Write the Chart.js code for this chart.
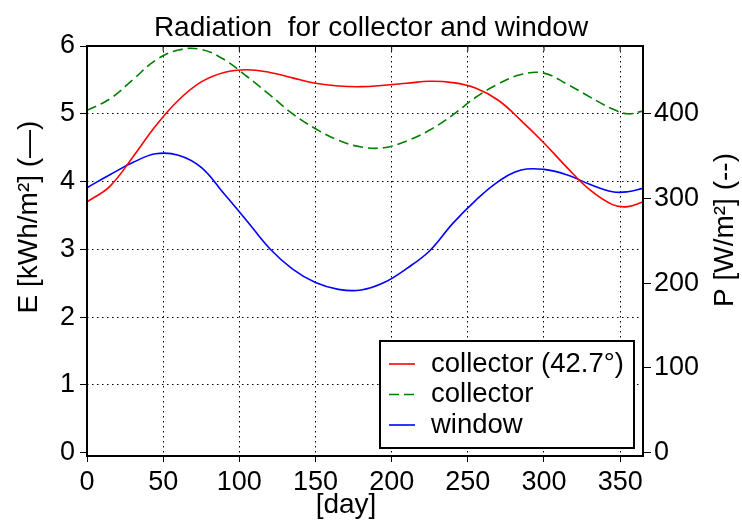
<!DOCTYPE html>
<html lang="en">
<head>
<meta charset="UTF-8">
<title>Radiation for collector and window</title>
<script src="https://cdn.jsdelivr.net/npm/chart.js"></script>
<style>
  html, body { margin: 0; padding: 0; background: #fff; }
  .chart-box { width: 742px; height: 523px; position: relative; }
</style>
</head>
<body>
<div class="chart-box"><canvas id="radChart"></canvas></div>
<script>
// day of year
const days = [0, 15, 30, 45, 60, 75, 90, 105, 120, 135, 150, 165, 180, 195, 210, 225, 240, 255, 270, 285, 300, 315, 330, 345, 355, 365];
// E [kWh/m²] per day
const collectorTilted = [3.70, 3.93, 4.36, 4.82, 5.20, 5.47, 5.61, 5.65, 5.61, 5.53, 5.45, 5.41, 5.40, 5.42, 5.45, 5.48, 5.46, 5.38, 5.20, 4.90, 4.57, 4.21, 3.88, 3.66, 3.63, 3.70];
const collector = [5.05, 5.22, 5.50, 5.79, 5.94, 5.95, 5.80, 5.55, 5.28, 5.00, 4.78, 4.61, 4.51, 4.50, 4.60, 4.76, 4.98, 5.24, 5.44, 5.58, 5.60, 5.44, 5.25, 5.07, 5.00, 5.04];
const windowRad = [3.91, 4.10, 4.28, 4.41, 4.39, 4.21, 3.82, 3.42, 3.01, 2.71, 2.51, 2.41, 2.40, 2.51, 2.72, 2.98, 3.38, 3.72, 4.00, 4.17, 4.18, 4.10, 3.96, 3.85, 3.85, 3.90];
const seriesNames = ['collector (42.7°)', 'collector', 'window'];
const seriesColors = ['#ff0000', '#008000', '#0000ff'];

const FONT = 'Liberation Sans, Arial, sans-serif';
const pts = arr => days.map((d, i) => ({ x: d, y: arr[i] }));

// title, axis titles, frame and legend drawn on top
const decorations = {
    id: 'decorations',
    afterDraw(chart) {
        const ctx = chart.ctx;
        const a = chart.chartArea;
        ctx.save();
        // frame
        ctx.strokeStyle = '#000';
        ctx.lineWidth = 2;
        ctx.setLineDash([]);
        ctx.strokeRect(a.left, a.top, a.right - a.left, a.bottom - a.top);
        // small ticks on top edge
        ctx.lineWidth = 1;
        chart.scales.x.ticks.forEach(t => {
            const px = chart.scales.x.getPixelForValue(t.value);
            ctx.beginPath();
            ctx.moveTo(px, a.top);
            ctx.lineTo(px, a.top + 5);
            ctx.stroke();
        });
        ctx.fillStyle = '#000';
        // title
        ctx.font = '28px ' + FONT;
        ctx.textAlign = 'center';
        ctx.textBaseline = 'middle';
        ctx.fillText('Radiation  for collector and window', 371, 28);
        // x label
        ctx.fillText('[day]', 346, 505);
        // left label
        ctx.save();
        ctx.translate(29, 217);
        ctx.rotate(-Math.PI / 2);
        ctx.fillText('E [kWh/m²] (—)', 0, 0);
        ctx.restore();
        // right label
        ctx.save();
        ctx.translate(725, 230);
        ctx.rotate(-Math.PI / 2);
        ctx.fillText('P [W/m²] (--)', 0, 0);
        ctx.restore();
        // legend
        ctx.fillStyle = '#fff';
        ctx.fillRect(380, 341, 254, 107);
        ctx.strokeStyle = '#000';
        ctx.lineWidth = 2;
        ctx.strokeRect(380, 341, 254, 107);
        ctx.font = '27.5px ' + FONT;
        ctx.textAlign = 'left';
        chart.data.datasets.forEach((ds, i) => {
            const yy = 364 + i * 30.5;
            ctx.strokeStyle = ds.borderColor;
            ctx.lineWidth = 1.6;
            ctx.setLineDash(ds.borderDash || []);
            ctx.beginPath();
            ctx.moveTo(389, yy);
            ctx.lineTo(415, yy);
            ctx.stroke();
            ctx.setLineDash([]);
            ctx.fillStyle = '#000';
            ctx.fillText(ds.label, 431, yy);
        });
        ctx.restore();
    }
};

const ctx = document.getElementById('radChart').getContext('2d');
const radChart = new Chart(ctx, {
    type: 'line',
    data: {
        datasets: [
            {
                label: seriesNames[0],
                data: pts(collectorTilted),
                borderColor: seriesColors[0],
                borderWidth: 1.6
            },
            {
                label: seriesNames[1],
                data: pts(collector),
                borderColor: seriesColors[1],
                borderWidth: 1.6,
                borderDash: [10, 5]
            },
            {
                label: seriesNames[2],
                data: pts(windowRad),
                borderColor: seriesColors[2],
                borderWidth: 1.6
            }
        ]
    },
    options: {
        responsive: true,
        maintainAspectRatio: false,
        animation: false,
        devicePixelRatio: 1,
        layout: { padding: { top: 46, left: 0, right: 0, bottom: 0 } },
        elements: {
            point: { radius: 0 },
            line: { tension: 0.4, fill: false }
        },
        plugins: {
            legend: { display: false },
            title: { display: false },
            tooltip: { enabled: false }
        },
        scales: {
            x: {
                type: 'linear',
                position: 'bottom',
                min: 0,
                max: 365,
                afterFit: s => { s.height = 67; },
                ticks: {
                    stepSize: 50,
                    includeBounds: false,
                    maxRotation: 0,
                    color: '#000',
                    padding: 4,
                    font: { family: FONT, size: 27 }
                },
                grid: {
                    color: c => (c.tick && c.tick.value === 0) ? 'rgba(0,0,0,0)' : '#000',
                    lineWidth: 1,
                    tickColor: '#000',
                    tickLength: 6,
                    tickBorderDash: []
                },
                border: { display: false, dash: [1.5, 3.5] }
            },
            y: {
                position: 'left',
                min: -0.048,
                max: 6,
                afterFit: s => { s.width = 87; },
                ticks: {
                    stepSize: 1,
                    includeBounds: false,
                    color: '#000',
                    padding: 5,
                    font: { family: FONT, size: 27 }
                },
                grid: {
                    color: c => (c.tick && (c.tick.value === 0 || c.tick.value === 6)) ? 'rgba(0,0,0,0)' : '#000',
                    lineWidth: 1,
                    tickColor: '#000',
                    tickLength: 7,
                    tickBorderDash: []
                },
                border: { display: false, dash: [1.5, 3.5] }
            },
            y2: {
                position: 'right',
                min: -3.9,
                max: 480,
                afterFit: s => { s.width = 99; },
                ticks: {
                    stepSize: 100,
                    includeBounds: false,
                    color: '#000',
                    padding: 3,
                    font: { family: FONT, size: 27 }
                },
                grid: {
                    drawOnChartArea: false,
                    tickColor: '#000',
                    tickLength: 8,
                    tickBorderDash: []
                },
                border: { display: false }
            }
        }
    },
    plugins: [decorations]
});
</script>
</body>
</html>
